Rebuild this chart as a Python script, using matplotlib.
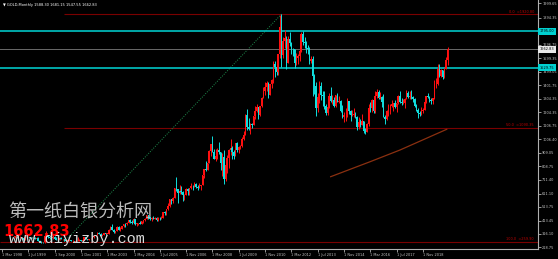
import matplotlib
matplotlib.use("Agg")
import matplotlib.pyplot as plt
import matplotlib.transforms as mtransforms
import numpy as np

# Monthly GOLD bars, Mar 1998 .. Feb 2020 (open, high, low, close)
opens = [
    297, 301, 309, 293, 296, 288, 273, 294, 292, 294,
    288, 287, 287, 279, 286, 268, 261, 255, 254, 299, 299, 291,
    290, 283, 293, 278, 275, 272, 288, 276, 277, 273, 264, 269,
    273, 265, 267, 258, 264, 267, 270, 266, 273, 293, 279, 275,
    279, 282, 297, 302, 308, 326, 318, 304, 312, 323, 317, 318,
    347, 368, 347, 334, 337, 364, 346, 354, 375, 388, 386, 398,
    416, 402, 396, 427, 388, 394, 395, 391, 408, 415, 428, 453,
    438, 422, 435, 428, 435, 417, 435, 429, 433, 473, 470, 495,
    517, 569, 556, 582, 654, 643, 614, 632, 624, 599, 604, 646,
    632, 650, 665, 663, 680, 658, 650, 665, 673, 743, 789, 783,
    834, 923, 972, 916, 865, 886, 930, 912, 833, 880, 717, 816,
    870, 927, 942, 916, 884, 979, 927, 954, 955, 1007, 1040, 1182,
    1096, 1081, 1118, 1113, 1179, 1212, 1244, 1181, 1248, 1307, 1357, 1386,
    1421, 1332, 1410, 1439, 1556, 1536, 1500, 1628, 1825, 1620, 1722, 1746,
    1566, 1740, 1711, 1669, 1664, 1561, 1604, 1614, 1648, 1773, 1719, 1712,
    1675, 1664, 1578, 1596, 1472, 1393, 1234, 1313, 1396, 1327, 1323, 1250,
    1202, 1244, 1326, 1284, 1296, 1250, 1327, 1282, 1287, 1210, 1171, 1182,
    1184, 1283, 1213, 1183, 1183, 1190, 1172, 1095, 1133, 1115, 1142, 1065,
    1061, 1118, 1238, 1233, 1293, 1215, 1322, 1351, 1309, 1316, 1277, 1173,
    1152, 1211, 1249, 1249, 1268, 1269, 1242, 1269, 1322, 1280, 1271, 1275,
    1303, 1345, 1318, 1325, 1315, 1298, 1253, 1224, 1201, 1192, 1215, 1222,
    1282, 1321, 1313, 1292, 1283, 1305, 1409, 1413, 1520, 1472, 1513, 1464,
    1517, 1588.30,
]
highs = [
    303, 316, 311, 301, 297, 290, 301, 302, 300, 297,
    293, 291, 291, 292, 291, 268, 263, 260, 307, 339, 301, 293,
    292, 315, 298, 292, 279, 294, 292, 279, 278, 275, 270, 276,
    274, 270, 268, 265, 291, 277, 272, 279, 297, 294, 282, 281,
    289, 302, 304, 311, 327, 328, 322, 316, 325, 325, 323, 349,
    373, 389, 354, 341, 372, 371, 366, 376, 391, 396, 400, 417,
    427, 420, 430, 428, 397, 399, 410, 412, 419, 434, 456, 457,
    440, 438, 446, 439, 437, 443, 437, 447, 475, 481, 497, 541,
    573, 573, 588, 655, 730, 645, 673, 665, 633, 608, 648, 648,
    652, 689, 670, 692, 691, 672, 685, 674, 748, 790, 848, 836,
    931, 975, 1032, 936, 936, 941, 988, 917, 908, 930, 832, 889,
    934, 1006, 960, 926, 982, 990, 960, 965, 1024, 1070, 1195, 1227,
    1162, 1128, 1127, 1180, 1249, 1265, 1245, 1251, 1316, 1388, 1424, 1432,
    1424, 1412, 1448, 1575, 1577, 1556, 1632, 1913, 1921, 1756, 1803, 1764,
    1764, 1791, 1720, 1677, 1667, 1640, 1632, 1692, 1789, 1796, 1755, 1723,
    1694, 1682, 1617, 1617, 1487, 1424, 1348, 1434, 1424, 1361, 1362, 1267,
    1280, 1345, 1392, 1331, 1315, 1332, 1345, 1322, 1292, 1255, 1208, 1238,
    1308, 1284, 1224, 1224, 1232, 1205, 1175, 1170, 1157, 1191, 1143, 1088,
    1127, 1263, 1282, 1304, 1304, 1362, 1375, 1367, 1353, 1324, 1337, 1182,
    1220, 1264, 1261, 1296, 1270, 1296, 1272, 1331, 1357, 1306, 1299, 1309,
    1366, 1361, 1356, 1366, 1326, 1309, 1265, 1237, 1214, 1243, 1237, 1287,
    1326, 1347, 1325, 1310, 1306, 1439, 1453, 1555, 1557, 1518, 1516, 1525,
    1611, 1681.15,
]
lows = [
    286, 299, 290, 287, 286, 272, 273, 287, 291, 285,
    284, 283, 277, 278, 268, 257, 253, 252, 253, 295, 289, 279,
    280, 282, 276, 271, 270, 271, 276, 270, 268, 263, 262, 268,
    262, 255, 256, 254, 263, 265, 264, 265, 271, 277, 271, 273,
    278, 282, 289, 299, 307, 313, 302, 301, 311, 311, 313, 317,
    343, 345, 322, 324, 336, 342, 341, 352, 370, 366, 378, 397,
    399, 392, 390, 385, 372, 384, 387, 386, 397, 411, 423, 427,
    416, 411, 425, 422, 414, 413, 417, 426, 432, 458, 457, 490,
    516, 538, 542, 581, 632, 543, 609, 607, 560, 561, 603, 604,
    603, 646, 636, 660, 653, 640, 648, 640, 670, 728, 777, 781,
    834, 886, 912, 862, 851, 862, 902, 786, 740, 681, 705, 764,
    800, 890, 866, 865, 882, 911, 904, 933, 950, 1003, 1036, 1075,
    1075, 1044, 1088, 1110, 1156, 1203, 1157, 1179, 1243, 1306, 1330, 1360,
    1308, 1328, 1381, 1418, 1462, 1478, 1478, 1600, 1532, 1604, 1670, 1523,
    1564, 1689, 1627, 1613, 1527, 1546, 1556, 1581, 1647, 1694, 1673, 1635,
    1626, 1555, 1562, 1321, 1338, 1180, 1207, 1271, 1291, 1251, 1226, 1187,
    1182, 1239, 1277, 1268, 1240, 1240, 1280, 1273, 1206, 1160, 1131, 1142,
    1167, 1191, 1142, 1175, 1170, 1162, 1077, 1080, 1098, 1111, 1053, 1046,
    1061, 1107, 1208, 1208, 1200, 1200, 1310, 1301, 1302, 1241, 1171, 1122,
    1146, 1180, 1195, 1241, 1214, 1236, 1205, 1267, 1272, 1260, 1264, 1236,
    1302, 1307, 1303, 1302, 1282, 1246, 1211, 1160, 1180, 1182, 1196, 1221,
    1275, 1310, 1281, 1266, 1267, 1301, 1382, 1400, 1459, 1459, 1445, 1454,
    1517, 1547.55,
]
closes = [
    301, 309, 293, 296, 288, 273, 294, 292, 294, 288,
    287, 287, 279, 286, 268, 261, 255, 254, 299, 299, 291, 290,
    283, 293, 278, 275, 272, 288, 276, 277, 273, 264, 269, 273,
    265, 267, 258, 264, 267, 270, 266, 273, 293, 279, 275, 279,
    282, 297, 302, 308, 326, 318, 304, 312, 323, 317, 318, 347,
    368, 347, 334, 337, 364, 346, 354, 375, 388, 386, 398, 416,
    402, 396, 427, 388, 394, 395, 391, 408, 415, 428, 453, 438,
    422, 435, 428, 435, 417, 435, 429, 433, 473, 470, 495, 517,
    569, 556, 582, 654, 643, 614, 632, 624, 599, 604, 646, 632,
    650, 665, 663, 680, 658, 650, 665, 673, 743, 789, 783, 834,
    923, 972, 916, 865, 886, 930, 912, 833, 880, 717, 816, 870,
    927, 942, 916, 884, 979, 927, 954, 955, 1007, 1040, 1182, 1096,
    1081, 1118, 1113, 1179, 1212, 1244, 1181, 1248, 1307, 1357, 1386, 1421,
    1332, 1410, 1439, 1556, 1536, 1500, 1628, 1825, 1620, 1722, 1746, 1566,
    1740, 1711, 1669, 1664, 1561, 1604, 1614, 1648, 1773, 1719, 1712, 1675,
    1664, 1578, 1596, 1472, 1393, 1234, 1313, 1396, 1327, 1323, 1250, 1202,
    1244, 1326, 1284, 1296, 1250, 1327, 1282, 1287, 1210, 1171, 1182, 1184,
    1283, 1213, 1183, 1183, 1190, 1172, 1095, 1133, 1115, 1142, 1065, 1061,
    1118, 1238, 1233, 1293, 1215, 1322, 1351, 1309, 1316, 1277, 1173, 1152,
    1211, 1249, 1249, 1268, 1269, 1242, 1269, 1322, 1280, 1271, 1275, 1303,
    1345, 1318, 1325, 1315, 1298, 1253, 1224, 1201, 1192, 1215, 1222, 1282,
    1321, 1313, 1292, 1283, 1305, 1409, 1413, 1520, 1472, 1513, 1464, 1517,
    1589, 1662.83,
]

date_labels = ["1 Mar 1998", "1 Jul 1999", "1 Sep 2000", "1 Dec 2001", "1 Mar 2003",
               "1 May 2004", "1 Jul 2005", "1 Nov 2006", "1 Mar 2008", "1 Jul 2009",
               "1 Nov 2010", "1 Mar 2012", "1 Jul 2013", "1 Nov 2014", "1 Mar 2016",
               "1 Jul 2017", "1 Nov 2018"]
price_ticks = [1999.65, 1894.35, 1696.75, 1599.35, 1499.05, 1401.75, 1304.35,
               1204.35, 1106.75, 1006.40, 909.05, 808.75, 711.40, 611.10,
               513.75, 413.45, 316.10, 218.75]

# fibonacci retracement (low bar -> high bar)
fib_bars = [30, 162]
fib_prices = [259.90, 1920.80]
# horizontal levels
cyan_levels = [1795.00, 1529.75]
last_price = 1662.83
# brown trend curve
trend_bars = [191.9, 215.8, 234.1, 262.5]
trend_prices = [734, 843, 929, 1080]

bg = "black"
up_col = "#ff1010"
dn_col = "#10dede"
txt_col = "#c8c8c8"

plt.rcParams['font.family'] = ['DejaVu Sans']
fig = plt.figure(figsize=(5.58, 2.59), dpi=100, facecolor=bg)
ax = fig.add_axes([0, 10 / 259, 538 / 558, 249 / 259], facecolor=bg)

o = np.array(opens, dtype=float)
h = np.array(highs, dtype=float)
l = np.array(lows, dtype=float)
c = np.array(closes, dtype=float)
x = np.arange(len(c))
up = c >= o
cols = np.where(up, up_col, dn_col)

# candles
ax.vlines(x, l, h, colors=cols, linewidth=0.7, zorder=3)
ax.bar(x, np.maximum(np.abs(c - o), 3), bottom=np.minimum(o, c), width=0.9,
       color=cols, linewidth=0, zorder=4)

ax.set_xlim(-9.2, 318.0)
ax.set_ylim(206.3, 2023.7)

# fibonacci
fib_col = "#7a0000"
xmax = ax.get_xlim()[1]
top, bot = fib_prices[1], fib_prices[0]
mid = (top + bot) / 2
ax.hlines([top, mid], fib_bars[0], xmax, colors=fib_col, linewidth=0.8, zorder=2)
ax.hlines(bot, ax.get_xlim()[0], xmax, colors=fib_col, linewidth=0.8, zorder=2)
for lvl, val in [("0.0", top), ("50.0", mid), ("100.0", bot)]:
    ax.text(xmax - 2.5, val + 4, "%s  =%.2f" % (lvl, val), color="#c00000",
            fontsize=2.5, ha="right", va="bottom", zorder=6)
ax.plot(fib_bars, fib_prices, color="#1f8f4f", linestyle=(0, (1, 1.5)),
        linewidth=0.7, zorder=2)

# horizontal lines
for lv in cyan_levels:
    ax.axhline(lv, color="#00c4c4", linewidth=1.2, zorder=2)
ax.axhline(last_price, color="#6a6a6a", linewidth=0.7, zorder=2)

ax.plot(trend_bars, trend_prices, color="#8b3010", linewidth=0.9, zorder=2)

# axes styling
for s in ["top", "left"]:
    ax.spines[s].set_visible(False)
for s in ["right", "bottom"]:
    ax.spines[s].set_color("#b0b0b0")
    ax.spines[s].set_linewidth(0.8)
ax.yaxis.tick_right()
ax.set_yticks(price_ticks)
ax.set_yticklabels(["%.2f" % v for v in price_ticks])
ax.set_xticks([-8 + 16 * i for i in range(len(date_labels))])
ax.set_xticklabels(date_labels, ha="left")
ax.tick_params(axis="both", colors="#b0b0b0", labelcolor=txt_col, labelsize=2.5,
               length=2, width=0.6, pad=1)

# price boxes on the axis
tr = mtransforms.blended_transform_factory(ax.transAxes, ax.transData)
for lv in cyan_levels:
    ax.text(1.003, lv, "%.2f" % lv, transform=tr, fontsize=2.5, color="black",
            ha="left", va="center", clip_on=False, zorder=7,
            bbox=dict(boxstyle="square,pad=0.4", fc="#00d0d0", ec="none"))
ax.text(1.003, last_price, "%.2f" % last_price, transform=tr, fontsize=2.5,
        color="black", ha="left", va="center", clip_on=False, zorder=7,
        bbox=dict(boxstyle="square,pad=0.4", fc="#e8e8e8", ec="none"))

# header and watermarks
fig.text(3 / 558, 1 - 5 / 259, "\u25bc GOLD,Monthly 1588.30 1681.15 1547.55 1662.83",
         color="white", fontsize=2.6, ha="left", va="center")
fig.text(8 / 558, 1 - 213 / 259, "第一纸白银分析网", color="#bcbcbc", fontsize=13,
         family=["Noto Sans CJK SC", "DejaVu Sans"], ha="left", va="center", zorder=8)
fig.text(3 / 558, 1 - 231 / 259, "%.2f" % last_price, color="#ff0000", fontsize=10.5,
         fontweight="bold", ha="left", va="center", zorder=8)
fig.text(9 / 558, 1 - 239 / 259, "www.diyizby.com", color="#dcdcdc", fontsize=11,
         family="Liberation Mono", ha="left", va="center", zorder=9)

fig.savefig("out.png", dpi=100, facecolor=bg)
